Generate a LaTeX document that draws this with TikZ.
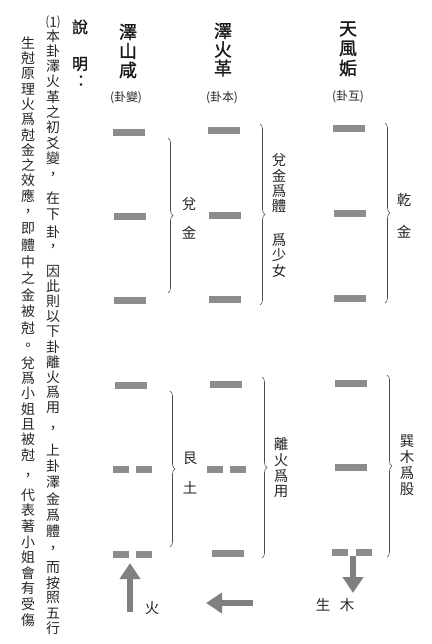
\documentclass[tikz,border=0pt]{standalone}
\usepackage{fontspec}
\newfontfamily\cjk{Noto Sans CJK TC}
\newfontfamily\cjkb{Noto Sans CJK TC}[FakeBold=1.2]
\usetikzlibrary{arrows.meta,decorations.pathreplacing}
\newcount\vsegn
\def\vseg#1#2#3#4#5#6{\def\vsegstyle{#1}\def\vsegname{#2}\def\vsegx{#3}\def\vsegy{#4}\def\vsegp{#5}\vsegn=0 \vsegloop#6\relax}
\def\vsegloop#1{\ifx\relax#1\else\node[\vsegstyle] (\vsegname\the\vsegn) at (\vsegx,{\vsegy+\vsegp*\the\vsegn}) {#1};\advance\vsegn by 1 \expandafter\vsegloop\fi}
\tikzset{
  txt/.style={font=\cjk\fontsize{14}{14}\selectfont, text=black!85, inner sep=0pt},
  lbl/.style={font=\cjk\fontsize{14.5}{14.5}\selectfont, text=black!85, inner sep=0pt},
  head/.style={font=\cjkb\fontsize{18}{18}\selectfont, text=black!90, inner sep=0pt},
  ttl/.style={font=\cjkb\fontsize{16}{16}\selectfont, text=black!90, inner sep=0pt},
  sub/.style={font=\cjk\fontsize{12}{12}\selectfont, text=black!85, inner sep=0pt},
  yang/.style={fill=black!45, minimum width=32bp, minimum height=7bp, inner sep=0pt},
  yin/.style={fill=black!45, minimum width=16bp, minimum height=7bp, inner sep=0pt},
  brc/.style={decorate, decoration={brace, amplitude=5bp}, draw=black!70, line width=0.6bp},
  bigarrow/.style={draw=black!50, line width=6.5bp, -{Triangle[width=20bp,length=16bp]}},
}
\begin{document}
\begin{tikzpicture}[x=1bp,y=-1bp]
\path[use as bounding box] (0,0) rectangle (431,644);

% title
\node[ttl] (t1) at (80,27) {說};
\node[ttl] (t2) at (80,64) {明};
\node[ttl] (t3) at (81,81) {：};

% left explanatory text, column 1
\node[txt] (n0) at (53,22) {⑴};
\vseg{txt}{a}{53}{36}{15.25}{本卦澤火革之初爻變}
\node[txt] (ap1) at (53,176) {，};
\vseg{txt}{b}{53}{198}{17}{在下卦}
\node[txt] (ap2) at (53,248) {，};
\vseg{txt}{c}{53}{271}{15.2}{因此則以下卦離火爲用}
\node[txt] (ap3) at (53,430) {，};
\vseg{txt}{d}{53}{450}{16.2}{上卦澤金爲體}
\node[txt] (ap4) at (53,550) {，};
\vseg{txt}{e}{53}{568}{15}{而按照五行}

% column 2
\vseg{txt}{f}{28}{43}{15.3}{生尅原理火爲尅金之效應}
\node[txt] (bp1) at (28,213) {，};
\vseg{txt}{g}{28}{229}{16.5}{即體中之金被尅}
\node[txt] (bp2) at (28,347) {。};
\vseg{txt}{h}{28}{363}{15.3}{兌爲小姐且被尅}
\node[txt] (bp3) at (28,477) {，};
\vseg{txt}{k}{28}{495}{15.6}{代表著小姐會有受傷}

% headers
\vseg{head}{ha}{128}{32}{19}{澤山咸}
\vseg{head}{hb}{223}{31}{18.5}{澤火革}
\vseg{head}{hc}{348}{29}{19.5}{天風姤}
\node[sub] (sa) at (126,98) {(卦變)};
\node[sub] (sb) at (222,98) {(卦本)};
\node[sub] (sc) at (348,97) {(卦互)};

% hexagram 1 (澤山咸)
\node[yang] (p1) at (129,133) {};
\node[yang] (p2) at (129.5,216) {};
\node[yang] (p3) at (130,300) {};
\node[yang] (p4) at (131,385) {};
\node[yin] (p5l) at (120.5,469) {};
\node[yin] (p5r) at (143.5,469) {};
\node[yin] (p6l) at (121,554) {};
\node[yin] (p6r) at (144,554) {};
\coordinate (p6m) at (130,558);

% hexagram 2 (澤火革)
\node[yang] (q1) at (223.5,131) {};
\node[yang] (q2) at (224.5,215) {};
\node[yang] (q3) at (225,299) {};
\node[yang] (q4) at (225.5,384) {};
\node[yin] (q5l) at (215,469) {};
\node[yin] (q5r) at (237.5,469) {};
\node[yang] (q6) at (227.5,553) {};

% hexagram 3 (天風姤)
\node[yang] (r1) at (348.5,129) {};
\node[yang] (r2) at (349.5,213) {};
\node[yang] (r3) at (350,298) {};
\node[yang] (r4) at (351,383) {};
\node[yang] (r5) at (351,467) {};
\node[yin] (r6l) at (340,552) {};
\node[yin] (r6r) at (364,552) {};

% braces
\coordinate (b1t) at (168,138); \coordinate (b1b) at (168,293);
\coordinate (b2t) at (260,124); \coordinate (b2b) at (260,305);
\coordinate (b3t) at (385,123); \coordinate (b3b) at (385,303);
\coordinate (b4t) at (170,391); \coordinate (b4b) at (170,547);
\coordinate (b5t) at (262,377); \coordinate (b5b) at (262,558);
\coordinate (b6t) at (387,375); \coordinate (b6b) at (387,557);
\draw[brc] (b1t) -- (b1b);
\draw[brc] (b2t) -- (b2b);
\draw[brc] (b3t) -- (b3b);
\draw[brc] (b4t) -- (b4b);
\draw[brc] (b5t) -- (b5b);
\draw[brc] (b6t) -- (b6b);

% brace labels
\node[lbl] (l1a) at (189,204) {兌};
\node[lbl] (l1b) at (189,233) {金};
\vseg{lbl}{l2a}{279}{160}{15.3}{兌金爲體}
\vseg{lbl}{l2b}{279}{240}{15.5}{爲少女}
\node[lbl] (l3a) at (404,200) {乾};
\node[lbl] (l3b) at (404,232) {金};
\node[lbl] (l4a) at (190,458) {艮};
\node[lbl] (l4b) at (190,488) {土};
\vseg{lbl}{l5}{281}{444}{16}{離火爲用}
\vseg{lbl}{l6}{407}{441}{16.2}{巽木爲股}

% arrows
\coordinate (u0) at (130,612);
\coordinate (u1) at (130,563);
\coordinate (w0) at (253,603);
\coordinate (w1) at (206,603);
\coordinate (d0) at (353,556);
\coordinate (d1) at (353,593);
\draw[bigarrow] (u0) -- (u1);
\draw[bigarrow] (w0) -- (w1);
\draw[bigarrow] (d0) -- (d1);

\node[lbl] (fire) at (152,608) {火};
\node[lbl] (sheng) at (323,605) {生};
\node[lbl] (mu) at (347,605) {木};
\end{tikzpicture}
\end{document}
